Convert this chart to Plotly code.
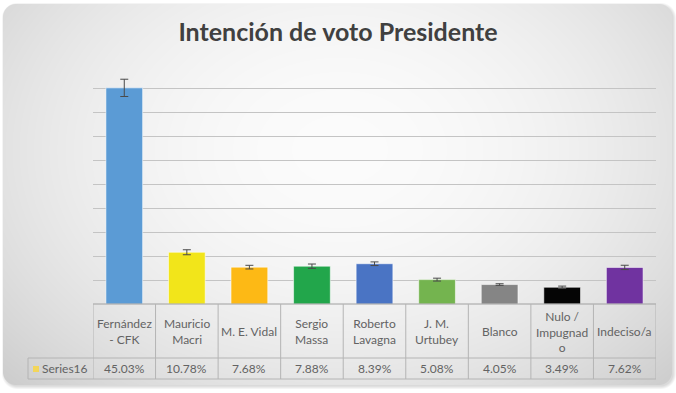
import base64, struct, zlib
import numpy as np
import plotly.graph_objects as go

# ---------------- data ----------------
categories = ["Fernández - CFK", "Mauricio Macri", "M. E. Vidal", "Sergio Massa",
              "Roberto Lavagna", "J. M. Urtubey", "Blanco", "Nulo / Impugnado", "Indeciso/a"]
table_labels = ["Fernández<br>- CFK", "Mauricio<br>Macri", "M. E. Vidal", "Sergio<br>Massa",
                "Roberto<br>Lavagna", "J. M.<br>Urtubey", "Blanco", "Nulo /<br>Impugnad<br>o", "Indeciso/a"]
values = [45.03, 10.78, 7.68, 7.88, 8.39, 5.08, 4.05, 3.49, 7.62]
errors = [1.8, 0.52, 0.38, 0.45, 0.38, 0.3, 0.17, 0.24, 0.45]
colors = ["#5b9bd5", "#f2e51a", "#fdb915", "#22a64b", "#4a74c4", "#74b44f",
          "#858585", "#050505", "#7033a0"]
series_name = "Series16"

# ---------------- geometry ----------------
W, H = 676, 393
ML, MR, MT, MB = 93, 20, 64, 89
PW, PH = W - ML - MR, H - MT - MB


def py(ypix):
    return (H - MB - ypix) / PH


def px(xpix):
    return (xpix - ML) / PW


# ---------------- background image (radial gradient, rounded box) ----------------
def make_bg():
    yy, xx = np.mgrid[0:H, 0:W].astype(float) + 0.5

    def sdf(x0, y0, x1, y1, r):
        cx, cy = (x0 + x1) / 2, (y0 + y1) / 2
        bx, by = (x1 - x0) / 2, (y1 - y0) / 2
        qx = np.abs(xx - cx) - bx + r
        qy = np.abs(yy - cy) - by + r
        out = np.sqrt(np.maximum(qx, 0) ** 2 + np.maximum(qy, 0) ** 2)
        inside = np.minimum(np.maximum(qx, qy), 0)
        return out + inside - r

    box = (3, 4, 672, 385, 13)
    d = sdf(*box)
    a_box = np.clip(0.5 - d, 0, 1)
    ds = sdf(box[0] + 1.5, box[1] + 1.5, box[2] + 1.5, box[3] + 1.5, box[4])
    a_sh = np.clip(1 - (ds + 0.5) / 3.5, 0, 1) * 0.35

    r2 = ((xx - 340) / 370) ** 2 + ((yy - 150) / 270) ** 2
    g = np.clip(251 - 30 * r2, 205, 255)

    base = 255 * (1 - a_sh) + 150 * a_sh
    val = base * (1 - a_box) + g * a_box
    img = np.stack([val, val, val, np.full_like(val, 255)], axis=-1).round().astype(np.uint8)

    raw = img.astype(np.int16)
    filt = raw.copy()
    filt[:, 1:, :] = (raw[:, 1:, :] - raw[:, :-1, :]) % 256
    filt = filt.reshape(H, W * 4).astype(np.uint8)
    rows = np.hstack([np.ones((H, 1), dtype=np.uint8), filt])
    data = zlib.compress(rows.tobytes(), 9)

    def chunk(t, b):
        c = struct.pack(">I", len(b)) + t + b
        return c + struct.pack(">I", zlib.crc32(t + b) & 0xffffffff)

    png = b"\x89PNG\r\n\x1a\n" + chunk(b"IHDR", struct.pack(">IIBBBBB", W, H, 8, 6, 0, 0, 0)) \
        + chunk(b"IDAT", data) + chunk(b"IEND", b"")
    return "data:image/png;base64," + base64.b64encode(png).decode()


# ---------------- figure ----------------
fig = go.Figure()
fig.add_trace(go.Bar(
    x=categories, y=values, name=series_name,
    marker=dict(color=colors, line=dict(color="rgba(255,255,255,0.55)", width=1)),
    error_y=dict(type="data", array=errors, visible=True, color="#4a4a4a", thickness=1, width=4),
    showlegend=False,
))

TEXT = "#636363"
LINE = "#b4b4b4"
FONT = "Lato"

y_axis = py(304)
y_mid = py(358)
y_bot = py(379)

shapes = []
shapes.append(dict(type="line", xref="paper", yref="paper", x0=0, x1=1, y0=y_axis, y1=y_axis,
                   line=dict(color="#a0a0a0", width=1)))
for yv in (y_mid, y_bot):
    shapes.append(dict(type="line", xref="paper", yref="paper", x0=px(28), x1=1, y0=yv, y1=yv,
                       line=dict(color=LINE, width=1)))
for i in range(len(categories) + 1):
    shapes.append(dict(type="line", xref="x", yref="paper", x0=i - 0.5, x1=i - 0.5,
                       y0=y_axis, y1=y_bot, line=dict(color=LINE, width=1)))
shapes.append(dict(type="line", xref="paper", yref="paper", x0=px(28), x1=px(28),
                   y0=y_mid, y1=y_bot, line=dict(color=LINE, width=1)))
shapes.append(dict(type="rect", xref="paper", yref="paper", x0=px(33), x1=px(39),
                   y0=py(372), y1=py(366), fillcolor="#f3d65a", line=dict(width=0)))

annotations = []
for i, (lab, v) in enumerate(zip(table_labels, values)):
    annotations.append(dict(x=i, y=py(331.5), xref="x", yref="paper", text=lab, showarrow=False,
                            xanchor="center", yanchor="middle", align="center",
                            font=dict(family=FONT, size=12, color=TEXT)))
    annotations.append(dict(x=i, y=py(368.5), xref="x", yref="paper", text=f"{v:.2f}%",
                            showarrow=False, xanchor="center", yanchor="middle",
                            font=dict(family=FONT, size=12, color=TEXT)))
annotations.append(dict(x=px(40), y=py(368.5), xref="paper", yref="paper", text=series_name,
                        showarrow=False, xanchor="left", yanchor="middle",
                        font=dict(family=FONT, size=12, color=TEXT)))

fig.update_layout(
    width=W, height=H,
    margin=dict(l=ML, r=MR, t=MT, b=MB, pad=0),
    paper_bgcolor="white", plot_bgcolor="rgba(0,0,0,0)",
    title=dict(text="<b>Intención de voto Presidente</b>", x=0.5, xref="container",
               y=1 - 32 / H, yref="container", yanchor="middle", xanchor="center",
               font=dict(family=FONT, size=25, color="#404040")),
    bargap=0.413,
    xaxis=dict(range=[-0.5, len(categories) - 0.5], showticklabels=False, showgrid=False,
               showline=False, zeroline=False, ticks=""),
    yaxis=dict(range=[0, 50], dtick=5, showticklabels=False, showgrid=True,
               gridcolor="#c4c4c4", gridwidth=1, zeroline=False, showline=False, ticks=""),
    shapes=shapes, annotations=annotations,
    images=[dict(source=make_bg(), xref="paper", yref="paper", x=-ML / PW, y=1 + MT / PH,
                 sizex=W / PW, sizey=H / PH, sizing="stretch", xanchor="left", yanchor="top",
                 layer="below")],
    showlegend=False,
)

fig.write_html("out.html", config={"displayModeBar": False},
               post_script="document.body.style.margin='0';document.body.style.overflow='hidden';")
